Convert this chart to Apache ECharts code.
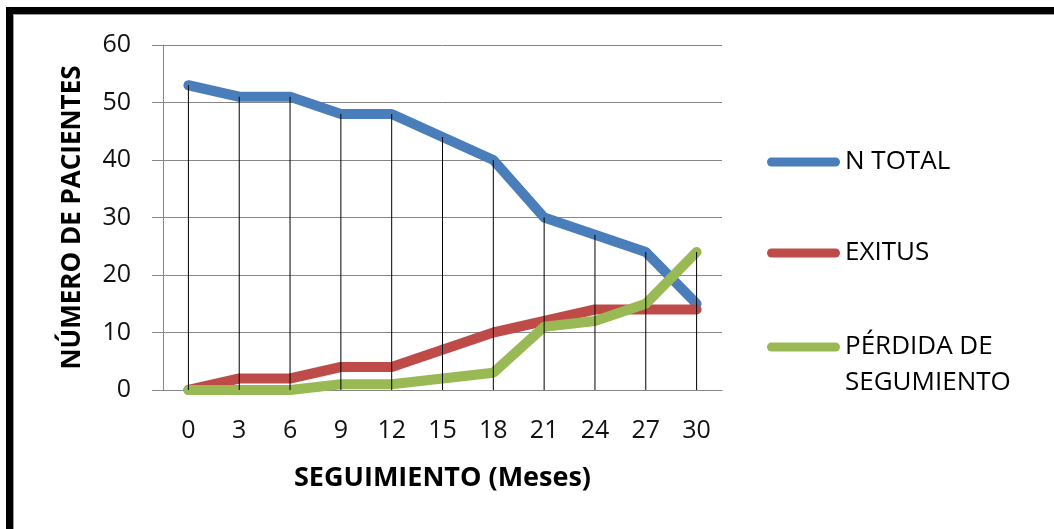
<!DOCTYPE html>
<html>
<head>
<meta charset="utf-8">
<script src="https://cdn.jsdelivr.net/npm/echarts@6/dist/echarts.min.js"></script>
<style>
  html, body { margin: 0; padding: 0; background: #fff; }
  #chart { width: 1054px; height: 529px; }
</style>
</head>
<body>
<div id="chart"></div>
<script>
// Follow-up months (category axis)
const months = ['0', '3', '6', '9', '12', '15', '18', '21', '24', '27', '30'];

// Patients per follow-up month
const nTotal  = [53, 51, 51, 48, 48, 44, 40, 30, 27, 24, 15];
const exitus  = [0, 2, 2, 4, 4, 7, 10, 12, 14, 14, 14];
const perdida = [0, 0, 0, 1, 1, 2, 3, 11, 12, 15, 24];

const seriesNames = ['N TOTAL', 'EXITUS', 'PÉRDIDA DE SEGUMIENTO'];
const seriesColors = ['#4A7EBB', '#BE4B48', '#98B954'];

// Drop lines run from the highest point of each month down to the axis
const dropTop = months.map((_, i) => Math.max(nTotal[i], exitus[i], perdida[i]));

const FONT = 'Open Sans';
const PILL = 'path://M4.5,0 L68.5,0 A4.5,4.5 0 0 1 68.5,9 L4.5,9 A4.5,4.5 0 0 1 4.5,0 Z';

function legendAt(name, top, formatter) {
  const l = {
    data: [name],
    orient: 'vertical',
    left: 767,
    top: top,
    padding: 0,
    itemWidth: 73,
    itemHeight: 9,
    icon: PILL,
    selectedMode: false,
    itemStyle: { borderWidth: 0 },
    textStyle: { fontFamily: FONT, fontSize: 26, color: '#000', lineHeight: 36 }
  };
  if (formatter) l.formatter = formatter;
  return l;
}

const chart = echarts.init(document.getElementById('chart'), null, { renderer: 'canvas' });

chart.setOption({
  animation: false,
  backgroundColor: '#fff',
  color: seriesColors,
  graphic: [
    { type: 'rect', shape: { x: 6, y: 7, width: 1048, height: 7 }, style: { fill: '#000' }, z: 100 },
    { type: 'rect', shape: { x: 6, y: 14, width: 1048, height: 1 }, style: { fill: '#9a9a9a' }, z: 99 },
    { type: 'rect', shape: { x: 6, y: 7, width: 7, height: 522 }, style: { fill: '#000' }, z: 100 },
    { type: 'rect', shape: { x: 13, y: 14, width: 1, height: 515 }, style: { fill: '#9a9a9a' }, z: 99 }
  ],
  grid: { left: 163, top: 45, width: 559, height: 345, containLabel: false },
  legend: [
    legendAt(seriesNames[0], 144),
    legendAt(seriesNames[1], 235),
    // name wraps onto a second line; the leading blank line keeps the swatch beside the first line
    legendAt(seriesNames[2], 293, () => '\nPÉRDIDA DE\nSEGUMIENTO')
  ],
  xAxis: {
    type: 'category',
    data: months,
    boundaryGap: true,
    name: 'SEGUIMIENTO (Meses)',
    nameLocation: 'middle',
    nameGap: 75,
    nameTextStyle: { fontFamily: FONT, fontSize: 27, fontWeight: 'bold', color: '#000' },
    axisLine: { show: true, lineStyle: { color: '#868686', width: 1 } },
    axisTick: { show: false },
    axisLabel: { fontFamily: FONT, fontSize: 25, color: '#111', margin: 28 },
    splitLine: { show: false }
  },
  yAxis: {
    type: 'value',
    min: 0,
    max: 60,
    interval: 10,
    name: 'NÚMERO DE PACIENTES',
    nameLocation: 'middle',
    nameRotate: 90,
    nameGap: 77,
    nameTextStyle: { fontFamily: FONT, fontSize: 26, fontWeight: 'bold', color: '#000' },
    axisLine: { show: true, lineStyle: { color: '#868686', width: 1 } },
    axisTick: { show: true, length: 11, lineStyle: { color: '#868686', width: 1 } },
    axisLabel: { fontFamily: FONT, fontSize: 25, color: '#111', margin: 32 },
    splitLine: { show: true, lineStyle: { color: '#868686', width: 1 } }
  },
  series: [
    {
      name: seriesNames[0], type: 'line', data: nTotal, symbol: 'none', z: 2,
      lineStyle: { width: 10, color: seriesColors[0], cap: 'round', join: 'round' }
    },
    {
      name: seriesNames[1], type: 'line', data: exitus, symbol: 'none', z: 3,
      lineStyle: { width: 10, color: seriesColors[1], cap: 'round', join: 'round' }
    },
    {
      name: seriesNames[2], type: 'line', data: perdida, symbol: 'none', z: 4,
      lineStyle: { width: 10, color: seriesColors[2], cap: 'round', join: 'round' }
    },
    {
      name: 'drop', type: 'bar', data: dropTop, barWidth: 1, z: 10,
      itemStyle: { color: '#000' }, silent: true
    }
  ]
});
</script>
</body>
</html>
